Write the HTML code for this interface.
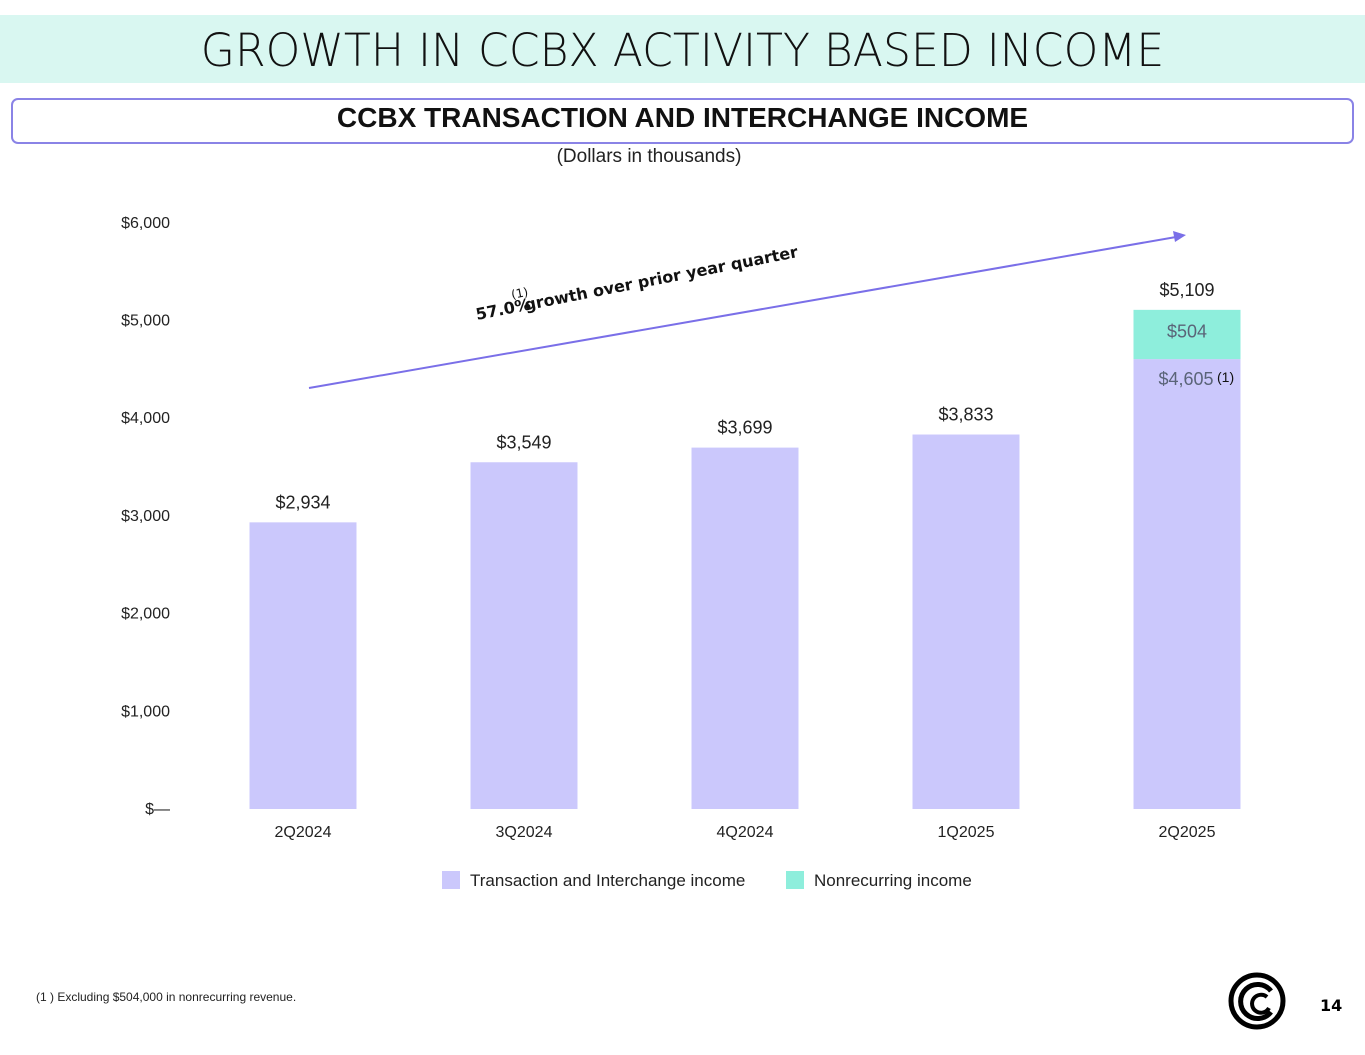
<!DOCTYPE html>
<html><head><meta charset="utf-8">
<style>
body{margin:0;width:1365px;height:1055px;background:#fff;position:relative;overflow:hidden;font-family:"Liberation Sans",sans-serif;}
.abs{position:absolute;}
</style></head>
<body>
<div class="abs" style="left:0;top:15px;width:1365px;height:68px;background:#d9f7f1;"></div>
<div class="abs" style="left:0;top:24px;width:1365px;text-align:center;font-family:'DejaVu Sans',sans-serif;font-size:45px;font-weight:200;color:#111;transform:scaleX(0.98);">GROWTH IN CCBX ACTIVITY BASED INCOME</div>
<div class="abs" style="left:11px;top:98px;width:1339px;height:42px;border:2px solid #8a83e6;border-radius:7px;"></div>
<div class="abs" style="left:0;top:102px;width:1365px;text-align:center;font-size:28px;font-weight:bold;color:#111;">CCBX TRANSACTION AND INTERCHANGE INCOME</div>
<div class="abs" style="left:0;top:146px;width:1298px;text-align:center;font-size:19px;color:#222;">(Dollars in thousands)</div>
<svg class="abs" style="left:0;top:0" width="1365" height="1055" id="chart"></svg>
<div class="abs" style="left:36px;top:990px;font-size:12px;color:#222;">(1 ) Excluding $504,000 in nonrecurring revenue.</div>
<svg class="abs" style="left:1227px;top:972px" width="62" height="58">
<circle cx="30" cy="29" r="26" fill="none" stroke="#000" stroke-width="5"/>
<path d="M44 19 A17 17 0 1 0 44 40" fill="none" stroke="#000" stroke-width="5"/>
<path d="M40 25 A9 9 0 1 0 42 36" fill="none" stroke="#000" stroke-width="4"/>
</svg>
<div class="abs" style="left:1320px;top:996px;font-size:16px;font-weight:bold;font-family:'DejaVu Sans',sans-serif;">14</div>
<script>
const categories=["2Q2024","3Q2024","4Q2024","1Q2025","2Q2025"];
const transaction=[2934,3549,3699,3833,4605];
const nonrecurring=[0,0,0,0,504];
const totals=[2934,3549,3699,3833,5109];
const yTicks=[0,1000,2000,3000,4000,5000,6000];
const yTickLabels=["$—","$1,000","$2,000","$3,000","$4,000","$5,000","$6,000"];
const svg=document.getElementById('chart');
const NS='http://www.w3.org/2000/svg';
const y=v=>809-v*0.0977;
const x=i=>303+i*221;
const bw=107;
function mk(t,a){const e=document.createElementNS(NS,t);for(const k in a)e.setAttribute(k,a[k]);svg.appendChild(e);return e;}
yTicks.forEach((v,i)=>{const t=mk('text',{x:170,y:y(v)+5,'text-anchor':'end','font-size':16,fill:'#222'});t.textContent=yTickLabels[i];

});
categories.forEach((c,i)=>{
 const r=mk('rect',{x:x(i)-bw/2,y:y(transaction[i]),width:bw,height:y(0)-y(transaction[i]),fill:'#cbc8fc'});
 
 
 if(nonrecurring[i]>0){
  const r2=mk('rect',{x:x(i)-bw/2,y:y(transaction[i]+nonrecurring[i]),width:bw,height:y(transaction[i])-y(transaction[i]+nonrecurring[i]),fill:'#8eeedc'});
  
  
  const l1=mk('text',{x:x(i),y:(y(transaction[i])+y(transaction[i]+nonrecurring[i]))/2+3,'text-anchor':'middle','font-size':18,fill:'#5a6478'});l1.textContent='$'+nonrecurring[i];
  
  
  const l2=mk('text',{x:x(i)-1,y:y(transaction[i])+26,'text-anchor':'middle','font-size':18,fill:'#5a6478'});l2.textContent='$'+transaction[i].toLocaleString('en-US');
  
  
  const f=mk('text',{x:x(i)+30,y:y(transaction[i])+23,'font-size':14,fill:'#111'});f.textContent='(1)';
  
  
 }
 const tl=mk('text',{x:x(i),y:y(totals[i])-14,'text-anchor':'middle','font-size':18,fill:'#222'});tl.textContent='$'+totals[i].toLocaleString('en-US');
 
 
 const cl=mk('text',{x:x(i),y:837,'text-anchor':'middle','font-size':16,fill:'#222'});cl.textContent=c;
 
 
});
const ar=mk('line',{x1:309,y1:388,x2:1176,y2:237,stroke:'#7a6fe8','stroke-width':2});


const ah=mk('polygon',{points:'1186,235 1173,231 1175,242',fill:'#7a6fe8'});


const g=mk('text',{x:477,y:320,transform:'rotate(-11.1 477 320)','font-size':16,'font-weight':'bold','font-family':'DejaVu Sans, sans-serif',fill:'#111'});
g.innerHTML='57.0%<tspan font-size="12" font-weight="normal" dy="-14" dx="-17">(1)</tspan><tspan dy="14" dx="-6">growth over prior year quarter</tspan>';


const legend=[["Transaction and Interchange income","#cbc8fc",442],["Nonrecurring income","#8eeedc",786]];
legend.forEach(l=>{
 const s=mk('rect',{x:l[2],y:871,width:18,height:18,fill:l[1]});
 
 
 const t=mk('text',{x:l[2]+28,y:886,'font-size':17,fill:'#222'});t.textContent=l[0];
 
 
});
</script>
</body></html>
